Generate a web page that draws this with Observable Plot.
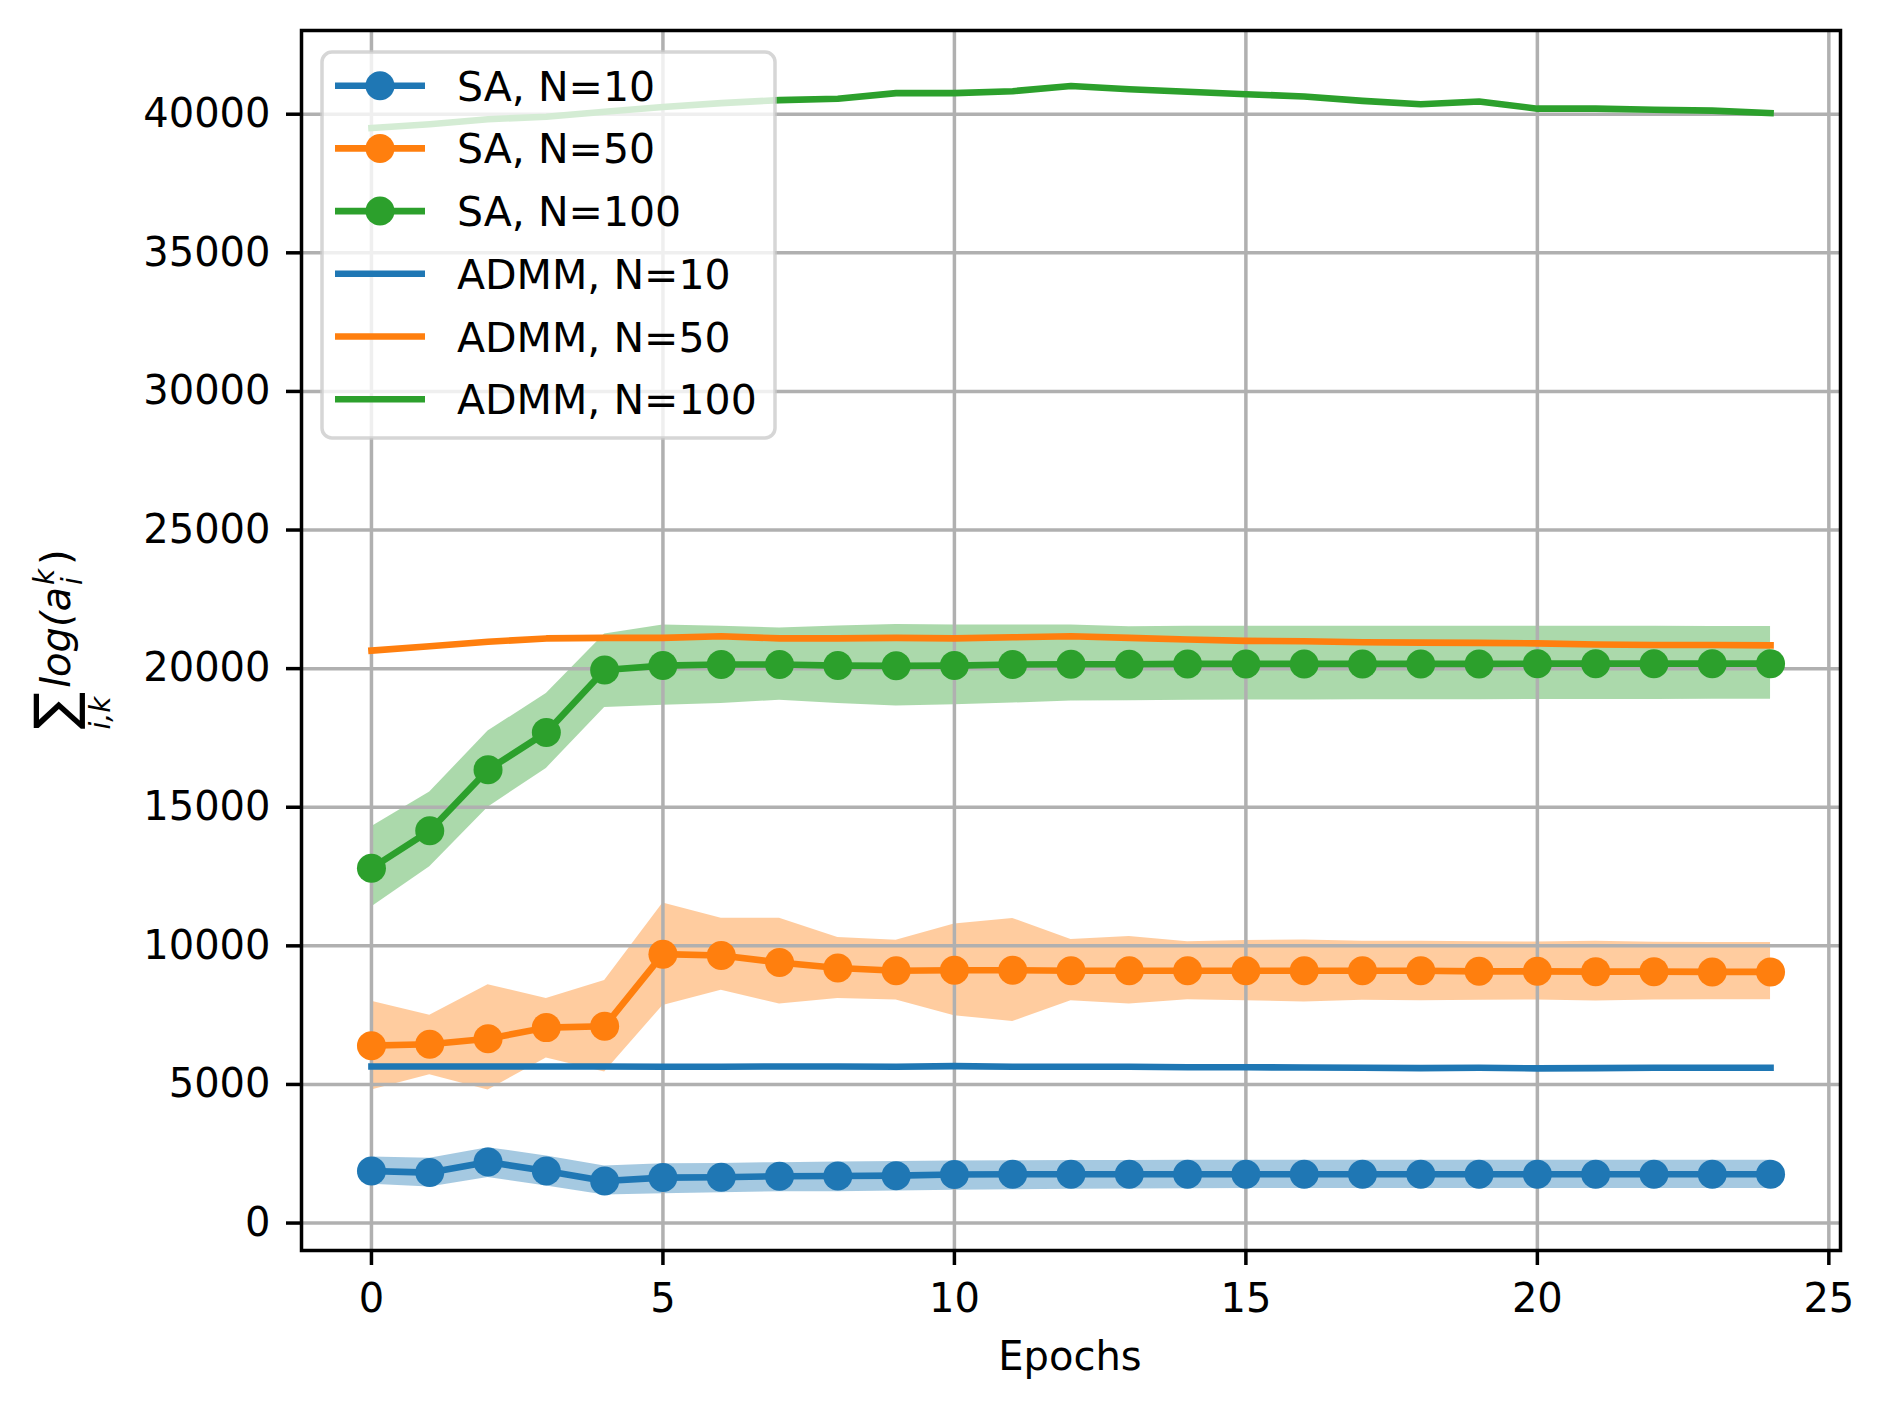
<!DOCTYPE html>
<html><head><meta charset="utf-8">
<script src="https://cdn.jsdelivr.net/npm/d3@7"></script>
<script src="https://cdn.jsdelivr.net/npm/@observablehq/plot@0.6"></script>
<style>body{margin:0;background:#fff;} svg{display:block;}</style>
</head><body><div id="chart"></div>
<script>
const epochs = [0,1,2,3,4,5,6,7,8,9,10,11,12,13,14,15,16,17,18,19,20,21,22,23,24];
const xTicks = [0,5,10,15,20,25];
const yTicks = [0,5000,10000,15000,20000,25000,30000,35000,40000];

const sa10Mean = [1880,1820,2200,1880,1520,1640,1650,1690,1700,1710,1750,1760,1760,1760,1760,1760,1760,1760,1760,1760,1760,1760,1760,1760,1760];
const sa10Hi   = [2380,2340,2720,2420,2060,2140,2150,2180,2200,2220,2240,2250,2260,2260,2265,2265,2265,2265,2265,2265,2265,2265,2265,2265,2265];
const sa10Lo   = [1400,1300,1640,1340,1010,1060,1095,1130,1130,1156,1180,1200,1220,1230,1240,1250,1250,1250,1250,1250,1250,1250,1250,1250,1250];

const sa50Mean = [6400,6450,6650,7050,7100,9700,9650,9400,9200,9100,9120,9120,9100,9100,9100,9100,9100,9100,9100,9080,9080,9070,9070,9060,9060];
const sa50Hi   = [8000,7500,8600,8100,8750,11550,11000,11000,10300,10200,10790,10990,10230,10340,10150,10190,10210,10170,10170,10150,10140,10170,10130,10120,10120];
const sa50Lo   = [4800,5350,4800,5950,5450,7850,8400,7900,8100,8050,7480,7270,8020,7900,8060,8020,7970,8040,8020,8040,8050,8010,8050,8060,8060];

const sa100Mean = [12800,14150,16350,17700,19950,20110,20150,20150,20110,20100,20110,20150,20160,20160,20170,20170,20170,20170,20170,20170,20180,20180,20180,20180,20180];
const sa100Hi   = [14300,15550,17750,19100,21250,21570,21530,21470,21540,21590,21570,21570,21570,21510,21530,21530,21530,21530,21530,21530,21530,21530,21530,21520,21520];
const sa100Lo   = [11400,12850,15000,16400,18600,18680,18740,18860,18740,18650,18700,18760,18830,18840,18860,18870,18870,18880,18880,18880,18890,18890,18890,18900,18900];

const admm10  = [5650,5650,5650,5650,5650,5640,5640,5650,5650,5640,5660,5640,5640,5640,5620,5620,5610,5600,5590,5600,5580,5590,5600,5600,5600];
const admm50  = [20650,20810,20970,21090,21110,21110,21170,21090,21090,21110,21090,21130,21170,21110,21050,21000,20990,20950,20940,20930,20910,20870,20850,20850,20840];
const admm100 = [39500,39640,39820,39910,40090,40260,40400,40510,40560,40760,40760,40830,41020,40900,40810,40720,40640,40480,40360,40460,40200,40200,40160,40130,40040];

const labels = ["SA, N=10","SA, N=50","SA, N=100","ADMM, N=10","ADMM, N=50","ADMM, N=100"];
const colors = ["#1f77b4","#ff7f0e","#2ca02c"];

const saSeries = [
  {label: labels[0], color: colors[0], mean: sa10Mean, hi: sa10Hi, lo: sa10Lo},
  {label: labels[1], color: colors[1], mean: sa50Mean, hi: sa50Hi, lo: sa50Lo},
  {label: labels[2], color: colors[2], mean: sa100Mean, hi: sa100Hi, lo: sa100Lo}
];
const admmSeries = [
  {label: labels[3], color: colors[0], vals: admm10},
  {label: labels[4], color: colors[1], vals: admm50},
  {label: labels[5], color: colors[2], vals: admm100}
];

const rowsSA = s => epochs.map((e,i) => ({epoch: e, mean: s.mean[i], hi: s.hi[i], lo: s.lo[i]}));
const rowsAD = s => epochs.map((e,i) => ({epoch: e, v: s.vals[i]}));

const LW = 6.6, R = 14.5;
const marks = [];
for (const s of saSeries) {
  marks.push(Plot.areaY(rowsSA(s), {x: "epoch", y1: "lo", y2: "hi", fill: s.color, fillOpacity: 0.4}));
}
marks.push(Plot.gridX(xTicks, {stroke: "#b0b0b0", strokeOpacity: 1, strokeWidth: 3.5}));
marks.push(Plot.gridY(yTicks, {stroke: "#b0b0b0", strokeOpacity: 1, strokeWidth: 3.5}));
for (const s of saSeries) {
  const r = rowsSA(s);
  marks.push(Plot.lineY(r, {x: "epoch", y: "mean", stroke: s.color, strokeWidth: LW, strokeLinejoin: "round", strokeLinecap: "square"}));
  marks.push(Plot.dot(r, {x: "epoch", y: "mean", fill: s.color, r: R, stroke: null}));
}
for (const s of admmSeries) {
  marks.push(Plot.lineY(rowsAD(s), {x: "epoch", y: "v", stroke: s.color, strokeWidth: LW, strokeLinejoin: "round", strokeLinecap: "square"}));
}
marks.push(Plot.frame({stroke: "black", strokeWidth: 3.5}));
marks.push(Plot.axisX(xTicks, {tickSize: 15, tickPadding: 18, fontSize: 40, strokeWidth: 3.5, label: null, tickFormat: d3.format("d")}));
marks.push(Plot.axisY(yTicks, {tickSize: 15, tickPadding: 16, fontSize: 40, strokeWidth: 3.5, label: null, tickFormat: d3.format("d")}));

const plot = Plot.plot({
  width: 1884, height: 1410,
  marginLeft: 301, marginRight: 44, marginTop: 30, marginBottom: 160,
  style: {fontFamily: "DejaVu Sans", background: "white", color: "black"},
  x: {domain: [-1.2, 25.2]},
  y: {domain: [-990, 43020]},
  marks
});
document.getElementById("chart").appendChild(plot);

const svg = d3.select(plot);
// x label
svg.append("text").attr("x", 1070).attr("y", 1370).attr("text-anchor", "middle")
  .attr("font-family", "DejaVu Sans").attr("font-size", 40).attr("fill", "black").text("Epochs");

// y label (mathtext-like)
const gy = svg.append("g").attr("transform", "translate(70,641) rotate(-90)")
  .attr("font-family", "DejaVu Sans").attr("fill", "black").attr("text-anchor", "start");
gy.append("text").attr("x", -70).attr("y", 4).attr("text-anchor", "middle").attr("font-size", 56).text("∑");
gy.append("text").attr("x", -72).attr("y", 40).attr("text-anchor", "middle").attr("font-size", 28).attr("font-style", "italic").text("i,k");
gy.append("text").attr("x", -47).attr("y", 0).attr("font-size", 40).attr("font-style", "italic").text("log(a");
gy.append("text").attr("x", 56).attr("y", -16).attr("font-size", 28).attr("font-style", "italic").text("k");
gy.append("text").attr("x", 56).attr("y", 12).attr("font-size", 28).attr("font-style", "italic").text("i");
gy.append("text").attr("x", 76).attr("y", 0).attr("font-size", 40).text(")");

// legend
const lg = svg.append("g").attr("font-family", "DejaVu Sans").attr("text-anchor", "start");
lg.append("rect").attr("x", 322).attr("y", 52).attr("width", 453).attr("height", 386).attr("rx", 10)
  .attr("fill", "white").attr("fill-opacity", 0.8).attr("stroke", "#cccccc").attr("stroke-opacity", 0.8).attr("stroke-width", 3.5);
const entries = [
  ...saSeries.map(s => ({label: s.label, color: s.color, marker: true})),
  ...admmSeries.map(s => ({label: s.label, color: s.color, marker: false}))
];
entries.forEach((en, i) => {
  const cy = 85.7 + i * 62.7;
  lg.append("line").attr("x1", 335).attr("x2", 425).attr("y1", cy).attr("y2", cy)
    .attr("stroke", en.color).attr("stroke-width", LW);
  if (en.marker) lg.append("circle").attr("cx", 380).attr("cy", cy).attr("r", R).attr("fill", en.color);
  lg.append("text").attr("x", 457).attr("y", cy + 15).attr("font-size", 41).attr("fill", "black").text(en.label);
});
</script>
</body></html>
